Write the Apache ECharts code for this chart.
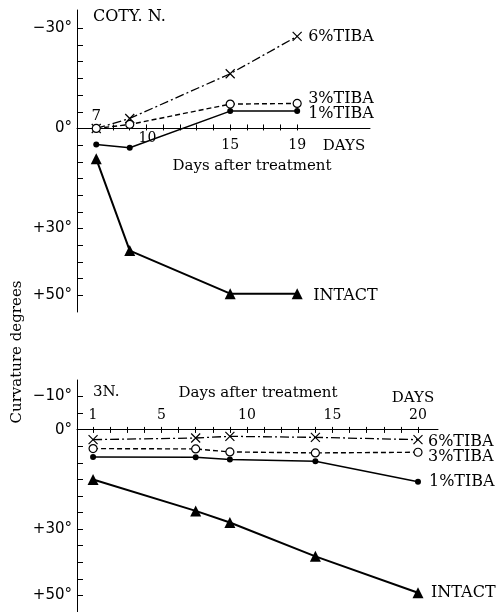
<!DOCTYPE html>
<html>
<head>
<meta charset="utf-8">
<script src="https://cdn.jsdelivr.net/npm/echarts@6/dist/echarts.min.js"></script>
<style>
html,body{margin:0;padding:0;background:#fff;}
#c{width:498px;height:612px;}
</style>
</head>
<body>
<div id="c"></div>
<script>
// ---- data ----
const topDays = [7, 9, 15, 19];
const top6 = [0, -3, -16.4, -27.6];
const top3 = [0, -1.2, -7.3, -7.5];
const top1 = [4.8, 5.8, -5.2, -5.2];
const topIntact = [9.1, 36.6, 49.5, 49.5];

const botDays = [1, 7, 9, 14, 20];
const bot6 = [3, 2.5, 2.0, 2.3, 3];
const bot3 = [5.7, 5.8, 6.7, 7, 6.8];
const bot1 = [8.2, 8.3, 9, 9.5, 15.7];
const botIntact = [15, 24.5, 28, 38.2, 49.2];

const topTickDays = [7,8,9,10,11,12,13,14,15,16,17,18,19];
const topLabelDays = [15, 19];
const botTickDays = [1,2,3,4,5,6,7,8,9,10,11,12,13,14,15,16,17,18,19,20];
const botLabelDays = [1, 5, 10, 15, 20];
const topYTicks = [-30,-25,-20,-15,-10,-5,0,5,10,15,20,25,30,35,40,45,50];
const topYLabels = [-30, 0, 30, 50];
const botYTicks = [-10,-5,0,5,10,15,20,25,30,35,40,45,50];
const botYLabels = [-10, 0, 30, 50];

// ---- helpers ----
const SERIF = 'DejaVu Serif';
const black = '#000';
const pair = (xs, ys) => xs.map((x, i) => [x, ys[i]]);
const degFmt = v => v < 0 ? '\u2212' + (-v) + '°' : (v === 0 ? '0°' : '+' + v + '°');

const grids = [
  { left: 77, top: 10, width: 293, height: 302, ymin: -35.5, ymax: 55, xmin: 5.85, xmax: 23.35 },
  { left: 77, top: 380, width: 361, height: 233, ymin: -15, ymax: 55, xmin: 0.06, xmax: 21.17 }
];
// distance (px) of the zero line from the grid's top and bottom edges (y axis inverted)
function zeroDist(g) {
  const span = g.ymax - g.ymin;
  return { fromTop: g.height * (0 - g.ymin) / span, fromBottom: g.height * (g.ymax - 0) / span };
}

function xAxes(gi, ticks, labels, labelInside, upLen, downLen) {
  const g = grids[gi], z = zeroDist(g);
  return [
    {
      gridIndex: gi, type: 'value', min: g.xmin, max: g.xmax, position: 'bottom', offset: -z.fromBottom,
      axisLine: { show: true, onZero: false, lineStyle: { color: black, width: 1 } },
      axisTick: { show: true, customValues: ticks, length: downLen, lineStyle: { color: black, width: 1 } },
      axisLabel: { show: true, customValues: labels, inside: labelInside, margin: labelInside ? 7 : 10,
        color: black, fontFamily: SERIF, fontSize: 14 },
      splitLine: { show: false }
    },
    {
      gridIndex: gi, type: 'value', min: g.xmin, max: g.xmax, position: 'top', offset: -z.fromTop,
      axisLine: { show: false, onZero: false },
      axisTick: { show: true, customValues: ticks, length: upLen, lineStyle: { color: black, width: 1 } },
      axisLabel: { show: false },
      splitLine: { show: false }
    }
  ];
}

function yAxis(gi, ticks, labels) {
  const g = grids[gi];
  return {
    gridIndex: gi, type: 'value', inverse: true, min: g.ymin, max: g.ymax,
    axisLine: { show: true, onZero: false, lineStyle: { color: black, width: 1 } },
    axisTick: { show: true, inside: true, length: 6, customValues: ticks, lineStyle: { color: black, width: 1 } },
    axisLabel: { show: true, customValues: labels, formatter: degFmt, margin: 5,
      color: black, fontFamily: 'DejaVu Sans', fontSize: 15 },
    splitLine: { show: false }
  };
}

const styles = {
  '6%TIBA': { symbol: 'path://M0,0L10,10M10,0L0,10', symbolSize: 9,
    itemStyle: { color: 'none', borderColor: black, borderWidth: 1.2 },
    lineStyle: { color: black, width: 1.3, type: [9, 3, 2, 3] } },
  '3%TIBA': { symbol: 'circle', symbolSize: 8,
    itemStyle: { color: '#fff', borderColor: black, borderWidth: 1.2 },
    lineStyle: { color: black, width: 1.4, type: [5, 3] } },
  '1%TIBA': { symbol: 'circle', symbolSize: 6,
    itemStyle: { color: black, borderColor: black, borderWidth: 0 },
    lineStyle: { color: black, width: 1.5, type: 'solid' } },
  'INTACT': { symbol: 'triangle', symbolSize: 11,
    itemStyle: { color: black, borderColor: black, borderWidth: 0 },
    lineStyle: { color: black, width: 2, type: 'solid' } }
};

function mk(name, gi, data, offset, z) {
  const s = styles[name];
  return {
    name: name, type: 'line', xAxisIndex: gi * 2, yAxisIndex: gi, data: data,
    symbol: s.symbol, symbolSize: s.symbolSize, showSymbol: true,
    itemStyle: s.itemStyle, lineStyle: s.lineStyle, z: z,
    emphasis: { disabled: true },
    endLabel: { show: true, formatter: name, color: black, fontFamily: SERIF, fontSize: 16, offset: offset },
    animation: false
  };
}

const option = {
  animation: false,
  backgroundColor: '#fff',
  grid: grids.map(g => ({ left: g.left, top: g.top, width: g.width, height: g.height })),
  xAxis: [].concat(
    xAxes(0, topTickDays, topLabelDays, false, 4, 2),
    xAxes(1, botTickDays, botLabelDays, true, 3, 4)
  ),
  yAxis: [
    yAxis(0, topYTicks, topYLabels),
    yAxis(1, botYTicks, botYLabels)
  ],
  series: [
    mk('INTACT', 0, pair(topDays, topIntact), [8, 2], 2),
    mk('1%TIBA', 0, pair(topDays, top1), [3, 3], 3),
    mk('6%TIBA', 0, pair(topDays, top6), [3, 0], 4),
    mk('3%TIBA', 0, pair(topDays, top3), [3, -5], 5),
    mk('INTACT', 1, pair(botDays, botIntact), [5, 0], 2),
    mk('1%TIBA', 1, pair(botDays, bot1), [3, 0], 3),
    mk('6%TIBA', 1, pair(botDays, bot6), [2, 2], 4),
    mk('3%TIBA', 1, pair(botDays, bot3), [2, 5], 5)
  ]
};

const chart = echarts.init(document.getElementById('c'), null, { renderer: 'canvas' });
chart.setOption(option);

// axis-relative annotation texts
const p7 = chart.convertToPixel({ gridIndex: 0 }, [7, 0]);
const p10 = chart.convertToPixel({ gridIndex: 0 }, [10, 0]);
const txt = (x, y, t, size, align, family, extra) => Object.assign({
  type: 'text', x: x, y: y,
  style: { text: t, fill: black, font: size + 'px "' + (family || SERIF) + '"', align: align || 'center', verticalAlign: 'middle' }
}, extra || {});

chart.setOption({
  graphic: [
    txt(93, 17, 'COTY. N.', 16, 'left'),
    txt(p7[0], p7[1] - 12, '7', 15),
    txt(p10[0] + 1, p10[1] + 10, '10', 14),
    txt(344, 146, 'DAYS', 15),
    txt(252, 166, 'Days after treatment', 15),
    txt(93, 392, '3N.', 15, 'left'),
    txt(258, 393, 'Days after treatment', 15),
    txt(413, 398, 'DAYS', 15),
    txt(17, 352, 'Curvature degrees', 15, 'center', SERIF, { rotation: Math.PI / 2 })
  ]
});
</script>
</body>
</html>
